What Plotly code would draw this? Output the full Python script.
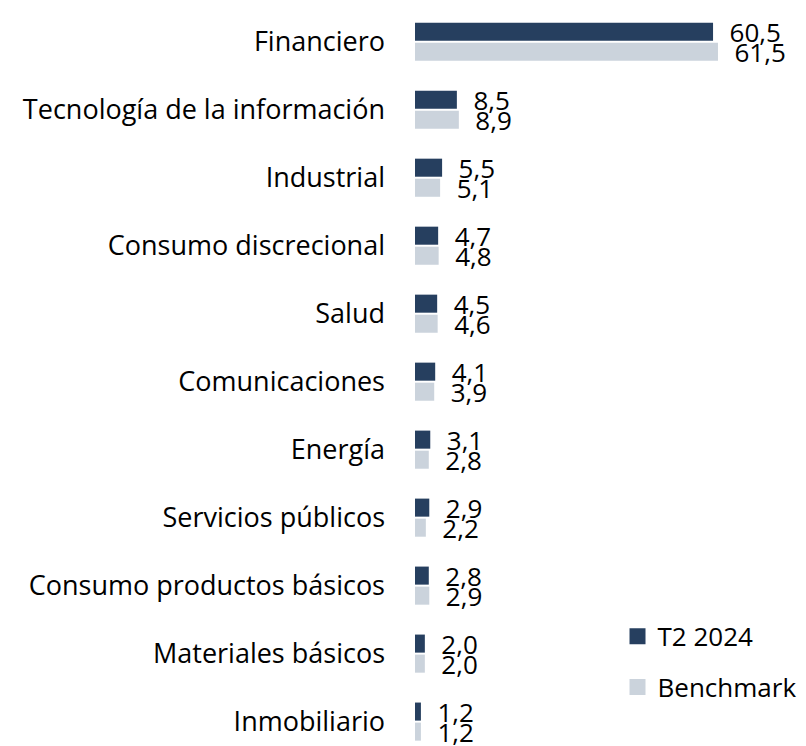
import plotly.graph_objects as go

# Sector weights (%)
categories = [
    "Financiero",
    "Tecnología de la información",
    "Industrial",
    "Consumo discrecional",
    "Salud",
    "Comunicaciones",
    "Energía",
    "Servicios públicos",
    "Consumo productos básicos",
    "Materiales básicos",
    "Inmobiliario",
]
t2_2024 = [60.5, 8.5, 5.5, 4.7, 4.5, 4.1, 3.1, 2.9, 2.8, 2.0, 1.2]
benchmark = [61.5, 8.9, 5.1, 4.8, 4.6, 3.9, 2.8, 2.2, 2.9, 2.0, 1.2]
series_names = ["T2 2024", "Benchmark"]

navy = "#263F5F"
light = "#CBD3DC"
font_name = "Open Sans"

fig = go.Figure()

for name, vals, color in [(series_names[0], t2_2024, navy),
                          (series_names[1], benchmark, light)]:
    fig.add_trace(go.Bar(
        y=categories, x=vals, orientation="h", name=name,
        marker=dict(color=color, line=dict(width=0)),
        texttemplate="\u00a0\u00a0%{x:.1f}", textposition="outside",
        constraintext="none", cliponaxis=False,
        textfont=dict(family=font_name, size=26, color="black"),
        showlegend=False,
    ))

# legend swatches
for i, (name, color) in enumerate([(series_names[0], navy), (series_names[1], light)]):
    fig.add_trace(go.Scatter(
        x=[None], y=[None], mode="markers", name=name,
        marker=dict(symbol="square", size=16, color=color),
        legendgroup=f"g{i}",
    ))

fig.update_layout(
    width=798, height=738,
    barmode="group", bargap=0.41, bargroupgap=0.1,
    separators=",.",
    plot_bgcolor="white", paper_bgcolor="white",
    margin=dict(l=407, r=6, t=12, b=4, autoexpand=False),
    font=dict(family=font_name, size=27, color="black"),
    xaxis=dict(range=[0, 78.15], showgrid=False, zeroline=False,
               showticklabels=False, showline=False),
    yaxis=dict(type="category", range=[10.3, -0.32], showgrid=False,
               zeroline=False, showline=False, ticks="",
               ticklabelstandoff=29, automargin=False,
               tickfont=dict(family=font_name, size=27, color="black")),
    legend=dict(x=0.526, y=0.179, xanchor="left", yanchor="top",
                traceorder="grouped", tracegroupgap=14,
                font=dict(family=font_name, size=26, color="black"),
                bgcolor="rgba(0,0,0,0)", itemwidth=30),
)

fig.write_html("out.html")
